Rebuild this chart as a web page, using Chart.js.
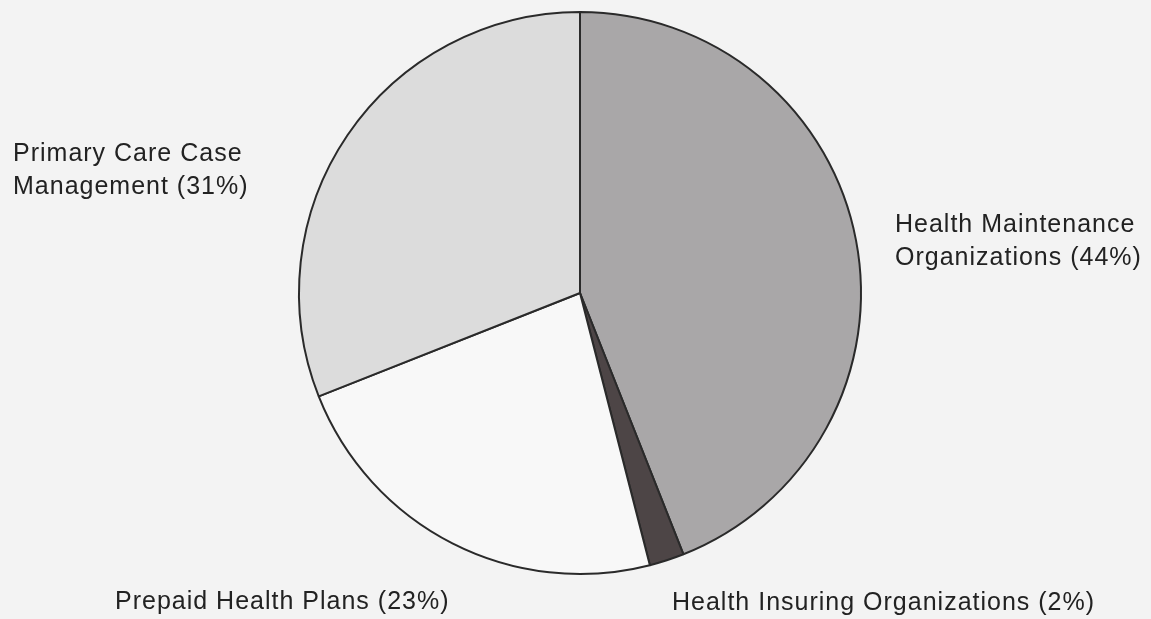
<!DOCTYPE html>
<html>
<head>
<meta charset="utf-8">
<script src="https://cdn.jsdelivr.net/npm/chart.js@4/dist/chart.umd.min.js"></script>
<style>
  html, body { margin: 0; padding: 0; background: #f3f3f3; }
  #wrap { width: 1151px; height: 619px; position: relative; }
</style>
</head>
<body>
<div id="wrap"><canvas id="chart"></canvas></div>
<script>
// Medicaid managed care enrollment by plan type
const categories = [
  'Health Maintenance Organizations',
  'Health Insuring Organizations',
  'Prepaid Health Plans',
  'Primary Care Case Management'
];
const shares = [44, 2, 23, 31];
const sliceColors = ['#a9a7a8', '#4d4546', '#f8f8f8', '#dcdcdc'];

// text lines for each slice, ending with its share
const labelLines = [
  ['Health Maintenance', 'Organizations (' + shares[0] + '%)'],
  ['Health Insuring Organizations (' + shares[1] + '%)'],
  ['Prepaid Health Plans (' + shares[2] + '%)'],
  ['Primary Care Case', 'Management (' + shares[3] + '%)']
];

// where each label block sits, relative to the pie centre
const labelOffsets = [
  { dx: 315, dy: -61 },
  { dx: 92, dy: 317 },
  { dx: -465, dy: 316 },
  { dx: -567, dy: -132 }
];

const outsideLabels = {
  id: 'outsideLabels',
  afterDraw(chart) {
    const arc = chart.getDatasetMeta(0).data[0];
    if (!arc) return;
    const { ctx } = chart;
    ctx.save();
    ctx.font = '25px "Liberation Sans", Arial, sans-serif';
    ctx.letterSpacing = '1px';
    ctx.fillStyle = '#222';
    ctx.textAlign = 'left';
    ctx.textBaseline = 'alphabetic';
    labelLines.forEach((lines, i) => {
      const o = labelOffsets[i];
      lines.forEach((t, j) => {
        ctx.fillText(t, arc.x + o.dx, arc.y + o.dy + j * 33);
      });
    });
    ctx.restore();
  }
};

new Chart(document.getElementById('chart'), {
  type: 'pie',
  data: {
    labels: categories,
    datasets: [{
      data: shares,
      backgroundColor: sliceColors,
      borderColor: '#2a2a2a',
      borderWidth: 2
    }]
  },
  plugins: [outsideLabels],
  options: {
    responsive: true,
    maintainAspectRatio: false,
    animation: false,
    layout: { padding: { top: 11, bottom: 44, left: 200, right: 191 } },
    plugins: {
      legend: { display: false },
      tooltip: { enabled: false }
    }
  }
});
</script>
</body>
</html>
